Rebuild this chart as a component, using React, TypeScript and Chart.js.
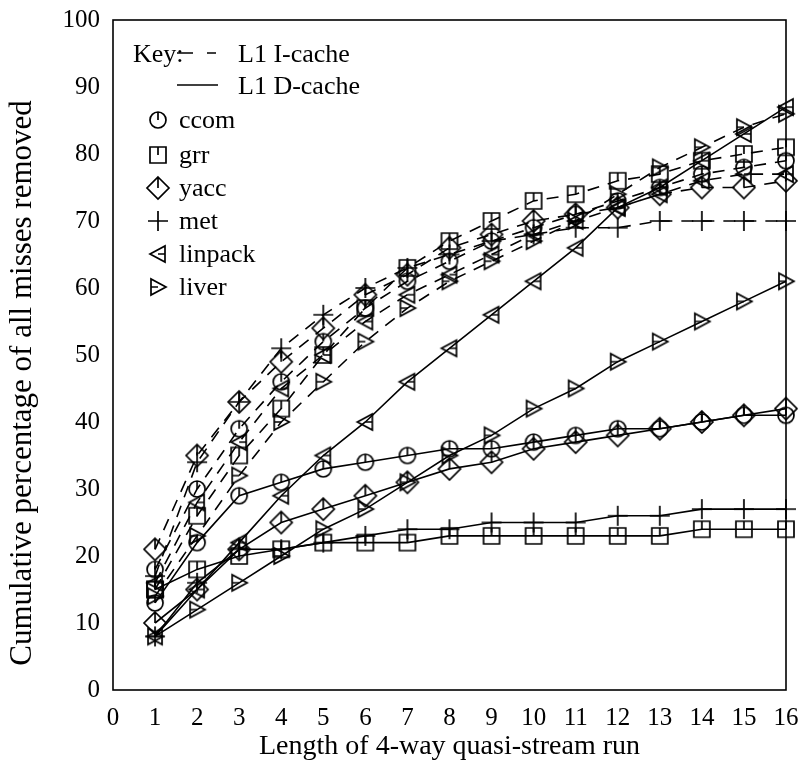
import React, { useEffect, useRef } from "react";
import { Chart, registerables } from "chart.js";

Chart.register(...registerables);

// ---- data ----
const runLengths = [1, 2, 3, 4, 5, 6, 7, 8, 9, 10, 11, 12, 13, 14, 15, 16];
const xTicks = [0, 1, 2, 3, 4, 5, 6, 7, 8, 9, 10, 11, 12, 13, 14, 15, 16];
const yTicks = [0, 10, 20, 30, 40, 50, 60, 70, 80, 90, 100];

// L1 I-cache (dashed)
const ccomI = [18, 30, 39, 46, 52, 57, 61, 64, 67, 69, 71, 73, 75, 77, 78, 79];
const grrI = [15, 26, 35, 42, 50, 57, 63, 67, 70, 73, 74, 76, 77, 79, 80, 81];
const yaccI = [21, 35, 43, 49, 54, 59, 62, 66, 68, 70, 71, 72, 74, 75, 75, 76];
const metI = [17, 34, 43, 51, 56, 60, 63, 65, 67, 68, 69, 69, 70, 70, 70, 70];
const linpackI = [16, 28, 37, 45, 50, 55, 59, 62, 65, 68, 70, 72, 74, 76, 77, 77];
const liverI = [14, 23, 32, 40, 46, 52, 57, 61, 64, 67, 70, 74, 78, 81, 84, 86];

// L1 D-cache (solid)
const ccomD = [13, 22, 29, 31, 33, 34, 35, 36, 36, 37, 38, 39, 39, 40, 41, 41];
const grrD = [15, 18, 20, 21, 22, 22, 22, 23, 23, 23, 23, 23, 23, 24, 24, 24];
const yaccD = [10, 15, 21, 25, 27, 29, 31, 33, 34, 36, 37, 38, 39, 40, 41, 42];
const metD = [8, 16, 21, 21, 22, 23, 24, 24, 25, 25, 25, 26, 26, 27, 27, 27];
const linpackD = [8, 15, 22, 29, 35, 40, 46, 51, 56, 61, 66, 72, 75, 79, 83, 87];
const liverD = [8, 12, 16, 20, 24, 27, 31, 35, 38, 42, 45, 49, 52, 55, 58, 61];

const benchmarks = ["ccom", "grr", "yacc", "met", "linpack", "liver"];
const markerKinds = ["circle", "square", "diamond", "plus", "left", "right"];
const iSeries = [ccomI, grrI, yaccI, metI, linpackI, liverI];
const dSeries = [ccomD, grrD, yaccD, metD, linpackD, liverD];

const keyTitle = "Key:";
const iLabel = "L1 I-cache";
const dLabel = "L1 D-cache";
const xTitle = "Length of 4-way quasi-stream run";
const yTitle = "Cumulative percentage of all misses removed";

const FONT = "'Liberation Serif', 'Times New Roman', serif";

function makeMarker(kind: string): HTMLCanvasElement {
  const s = 28;
  const c = document.createElement("canvas");
  c.width = s;
  c.height = s;
  const g = c.getContext("2d")!;
  g.strokeStyle = "#000";
  g.lineWidth = 1.7;
  const m = s / 2;
  g.beginPath();
  switch (kind) {
    case "circle":
      g.arc(m, m, 8, 0, 2 * Math.PI);
      g.moveTo(m, m - 8);
      g.lineTo(m, m);
      break;
    case "square":
      g.rect(m - 8, m - 8, 16, 16);
      g.moveTo(m, m - 8);
      g.lineTo(m, m);
      break;
    case "diamond":
      g.moveTo(m, m - 11);
      g.lineTo(m + 11, m);
      g.lineTo(m, m + 11);
      g.lineTo(m - 11, m);
      g.closePath();
      g.moveTo(m, m - 11);
      g.lineTo(m, m);
      break;
    case "plus":
      g.moveTo(m - 10, m);
      g.lineTo(m + 10, m);
      g.moveTo(m, m - 10);
      g.lineTo(m, m + 10);
      break;
    case "left":
      g.moveTo(m - 8, m);
      g.lineTo(m + 7, m - 8);
      g.lineTo(m + 7, m + 8);
      g.closePath();
      g.moveTo(m + 7, m);
      g.lineTo(m, m);
      break;
    case "right":
      g.moveTo(m + 8, m);
      g.lineTo(m - 7, m - 8);
      g.lineTo(m - 7, m + 8);
      g.closePath();
      g.moveTo(m - 7, m);
      g.lineTo(m, m);
      break;
  }
  g.stroke();
  return c;
}

export default function App() {
  const ref = useRef<HTMLCanvasElement | null>(null);

  useEffect(() => {
    document.body.style.margin = "0";
    const canvas = ref.current;
    if (!canvas) return;
    const markers = markerKinds.map((k) => makeMarker(k));

    const datasets: any[] = [];
    benchmarks.forEach((name, i) => {
      datasets.push({
        label: name + " " + iLabel,
        data: runLengths.map((x, j) => ({ x, y: iSeries[i][j] })),
        borderColor: "#000",
        backgroundColor: "#000",
        borderWidth: 1.6,
        borderDash: [12, 9],
        pointStyle: markers[i],
        pointRadius: 9,
        tension: 0,
        clip: false,
      });
      datasets.push({
        label: name + " " + dLabel,
        data: runLengths.map((x, j) => ({ x, y: dSeries[i][j] })),
        borderColor: "#000",
        backgroundColor: "#000",
        borderWidth: 1.6,
        pointStyle: markers[i],
        pointRadius: 9,
        tension: 0,
        clip: false,
      });
    });

    const framePlugin = {
      id: "frame",
      beforeDatasetsDraw(chart: any) {
        const { ctx, chartArea: a } = chart;
        ctx.save();
        ctx.strokeStyle = "#000";
        ctx.lineWidth = 1.6;
        ctx.strokeRect(a.left, a.top, a.right - a.left, a.bottom - a.top);
        ctx.restore();
      },
      afterDraw(chart: any) {
        const { ctx } = chart;
        ctx.save();
        ctx.fillStyle = "#000";
        ctx.strokeStyle = "#000";
        ctx.lineWidth = 1.6;
        // y title
        ctx.save();
        ctx.translate(23, 383);
        ctx.rotate(-Math.PI / 2);
        ctx.font = "31px " + FONT;
        ctx.textAlign = "center";
        ctx.textBaseline = "middle";
        ctx.fillText(yTitle, 0, 0);
        ctx.restore();

        // key
        ctx.font = "26px " + FONT;
        ctx.textAlign = "left";
        ctx.textBaseline = "middle";
        ctx.fillText(keyTitle, 133, 55);
        ctx.beginPath();
        ctx.moveTo(177, 53);
        ctx.lineTo(193, 53);
        ctx.moveTo(207, 53);
        ctx.lineTo(216, 53);
        ctx.stroke();
        ctx.fillText(iLabel, 238, 55);
        ctx.beginPath();
        ctx.moveTo(177, 85);
        ctx.lineTo(218, 85);
        ctx.stroke();
        ctx.fillText(dLabel, 238, 87);
        const rows = [120, 155, 188, 221, 254, 287];
        benchmarks.forEach((name, i) => {
          const img = markers[i];
          ctx.drawImage(img, 158 - img.width / 2, rows[i] - img.height / 2);
          ctx.fillText(name, 179, rows[i] + 1);
        });
        ctx.restore();
      },
    };

    const chart = new Chart(canvas, {
      type: "line",
      data: { datasets },
      plugins: [framePlugin],
      options: {
        responsive: false,
        animation: false,
        layout: { padding: { top: 20, right: 18, left: 0, bottom: 0 } },
        plugins: { legend: { display: false }, tooltip: { enabled: false } },
        scales: {
          x: {
            type: "linear",
            min: 0,
            max: 16,
            afterFit: (s: any) => {
              s.height = 71;
              s.paddingLeft = 0;
              s.paddingRight = 0;
            },
            afterBuildTicks: (s: any) => {
              s.ticks = xTicks.map((v) => ({ value: v }));
            },
            grid: { display: false, drawTicks: false },
            border: { display: false },
            ticks: {
              color: "#000",
              font: { family: FONT, size: 25 },
              padding: 13,
              maxRotation: 0,
              autoSkip: false,
            },
            title: {
              display: true,
              text: xTitle,
              color: "#000",
              font: { family: FONT, size: 28 },
              padding: { top: 0, bottom: -2 },
            },
          },
          y: {
            type: "linear",
            min: 0,
            max: 100,
            afterFit: (s: any) => {
              s.width = 113;
              s.paddingTop = 0;
              s.paddingBottom = 0;
            },
            afterBuildTicks: (s: any) => {
              s.ticks = yTicks.map((v) => ({ value: v }));
            },
            grid: { display: false, drawTicks: false },
            border: { display: false },
            ticks: {
              color: "#000",
              font: { family: FONT, size: 25 },
              padding: 13,
              autoSkip: false,
            },
          },
        },
      },
    });
    return () => chart.destroy();
  }, []);

  return (
    <div style={{ position: "absolute", left: 0, top: 0, width: 804, height: 761, background: "#fff" }}>
      <canvas ref={ref} width={804} height={761} />
    </div>
  );
}
